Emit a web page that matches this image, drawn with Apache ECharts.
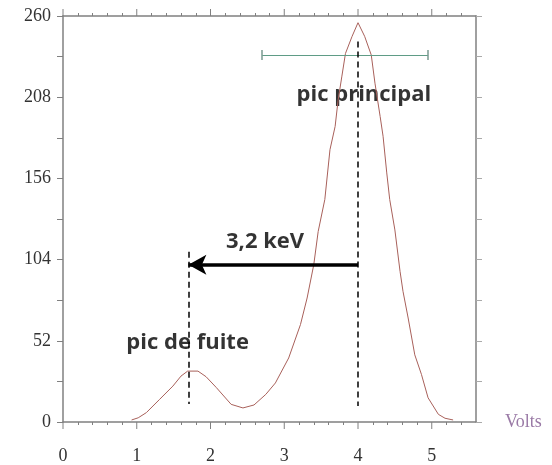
<!DOCTYPE html>
<html>
<head>
    <meta charset="UTF-8">
    <title>pic principal / pic de fuite</title>
    <script type="text/javascript" src="https://cdn.jsdelivr.net/npm/echarts@6/dist/echarts.min.js"></script>
    <style type="text/css">
        body { margin: 0; background: #fff; }
    </style>
</head>
<body>
<div id="main" style="width: 552px; height: 465px;"></div>
<script>
// spectre (Volts, coups)
var volts = [0.93, 1.02, 1.13, 1.31, 1.49, 1.60, 1.69, 1.83, 1.94, 2.08, 2.28, 2.44, 2.59, 2.75, 2.88,
    3.06, 3.22, 3.31, 3.40, 3.46, 3.55, 3.62, 3.69, 3.73, 3.78, 3.83, 3.92, 4.00, 4.09, 4.18,
    4.23, 4.30, 4.34, 4.39, 4.43, 4.50, 4.57, 4.61, 4.68, 4.77, 4.86, 4.95, 5.09, 5.18, 5.29];
var counts = [1.3, 2.7, 6, 14.5, 23, 29.4, 32.6, 32.6, 29, 22, 11.3, 9, 10.9, 17.7, 25,
    41, 62.4, 79.4, 100.7, 122, 142.5, 174.4, 189.3, 206, 221, 236, 247, 255.7, 247, 235,
    217, 195.7, 183, 159.5, 142.5, 123, 96.5, 83.7, 66.6, 43, 30.5, 15.5, 4.9, 2.4, 1.3];
var yTicks = [0, 52, 104, 156, 208, 260];
var xMajorTicks = [0, 1, 2, 3, 4, 5];

// annotations
var mainPeak = 4.0, escapePeak = 1.7;
var widthBar = [2.7, 4.95, 235];      // trait vert (x debut, x fin, y)
var arrowY = 100.7;
var notes = [
    { name: 'pic principal', value: [4.08, 209.5] },
    { name: 'pic de fuite', value: [1.69, 50.5] },
    { name: '3,2 keV', value: [2.74, 115.6] }
];

var axisGray = '#808080';
var serif = '"Liberation Serif", "DejaVu Serif", serif';
var data = volts.map(function (v, i) { return [v, counts[i]]; });

var minorX = { show: true, splitNumber: 5, length: 3, lineStyle: { color: axisGray, width: 1 } };

var myChart = echarts.init(document.getElementById('main'));
myChart.setOption({
    animation: false,
    grid: { left: 63, right: 76, top: 16, bottom: 42 },
    xAxis: [{
        type: 'value', min: 0, max: 5.6, interval: 1, position: 'bottom',
        name: 'Volts', nameLocation: 'end', nameGap: 29,
        nameTextStyle: { color: '#9a7aa6', fontFamily: serif, fontSize: 18 },
        axisLine: { onZero: false, lineStyle: { color: axisGray, width: 1.5 } },
        axisTick: { show: false },
        minorTick: minorX,
        axisLabel: {
            margin: 25, color: '#333', fontFamily: serif, fontSize: 18,
            showMaxLabel: false,
            formatter: function (v) { return xMajorTicks.indexOf(v) >= 0 ? String(v) : ''; }
        },
        splitLine: { show: false }
    }, {
        type: 'value', min: 0, max: 5.6, interval: 1, position: 'top',
        axisLine: { show: true, onZero: false, lineStyle: { color: axisGray, width: 1.5 } },
        axisTick: { show: false },
        minorTick: minorX,
        axisLabel: { show: false },
        splitLine: { show: false }
    }],
    yAxis: [{
        type: 'value', min: 0, max: 260, interval: 26, position: 'left',
        axisLine: { show: true, onZero: false, lineStyle: { color: axisGray, width: 1.5 } },
        axisTick: { show: true, length: 6, lineStyle: { color: axisGray } },
        axisLabel: {
            margin: 12, color: '#333', fontFamily: serif, fontSize: 18,
            formatter: function (v) { return yTicks.indexOf(v) >= 0 ? String(v) : ''; }
        },
        splitLine: { show: false }
    }, {
        type: 'value', min: 0, max: 260, interval: 26, position: 'right',
        axisLine: { show: true, onZero: false, lineStyle: { color: axisGray, width: 1.5 } },
        axisTick: { show: true, length: 6, lineStyle: { color: '#aaa' } },
        axisLabel: { show: false },
        splitLine: { show: false }
    }],
    series: [{
        type: 'line',
        data: data,
        symbol: 'none',
        lineStyle: { color: '#a8605a', width: 1 },
        markLine: {
            silent: true,
            symbol: 'none',
            label: { show: false },
            data: [
                // trait vert + extremites
                [{ coord: [widthBar[0], widthBar[2]], lineStyle: { color: '#5f9c86', width: 1.2, type: 'solid' } },
                 { coord: [widthBar[1], widthBar[2]] }],
                [{ coord: [widthBar[0], widthBar[2] - 3.2], lineStyle: { color: '#7a9a90', width: 1.5, type: 'solid' } },
                 { coord: [widthBar[0], widthBar[2] + 3.2] }],
                [{ coord: [widthBar[1], widthBar[2] - 3.2], lineStyle: { color: '#7a9a90', width: 1.5, type: 'solid' } },
                 { coord: [widthBar[1], widthBar[2] + 3.2] }],
                // pointilles
                [{ coord: [mainPeak, 243.6], lineStyle: { color: '#000', width: 1.5, type: [6, 4] } },
                 { coord: [mainPeak, 10.2] }],
                [{ coord: [escapePeak, 109], lineStyle: { color: '#000', width: 1.5, type: [6, 4] } },
                 { coord: [escapePeak, 11.5] }],
                // fleche 3,2 keV
                [{ coord: [mainPeak, arrowY], lineStyle: { color: '#000', width: 3.5, type: 'solid' } },
                 { coord: [escapePeak, arrowY], symbol: 'arrow', symbolSize: [15, 18] }]
            ]
        }
    }, {
        // graduations principales, plus longues
        type: 'custom',
        clip: false,
        silent: true,
        data: xMajorTicks.map(function (v) { return [v]; }),
        renderItem: function (params, api) {
            var b = api.coord([api.value(0), 0]);
            var t = api.coord([api.value(0), 260]);
            var st = { stroke: axisGray, lineWidth: 1 };
            return {
                type: 'group',
                children: [
                    { type: 'line', shape: { x1: b[0], y1: b[1], x2: b[0], y2: b[1] + 7 }, style: st },
                    { type: 'line', shape: { x1: t[0], y1: t[1], x2: t[0], y2: t[1] - 7 }, style: st }
                ]
            };
        }
    }, {
        type: 'scatter',
        silent: true,
        symbolSize: 0,
        data: notes,
        label: {
            show: true, position: 'inside', formatter: '{b}',
            color: '#000', fontFamily: '"Open Sans", "Liberation Sans", sans-serif',
            fontWeight: 'bold', fontSize: 22
        }
    }]
});
</script>
</body>
</html>
